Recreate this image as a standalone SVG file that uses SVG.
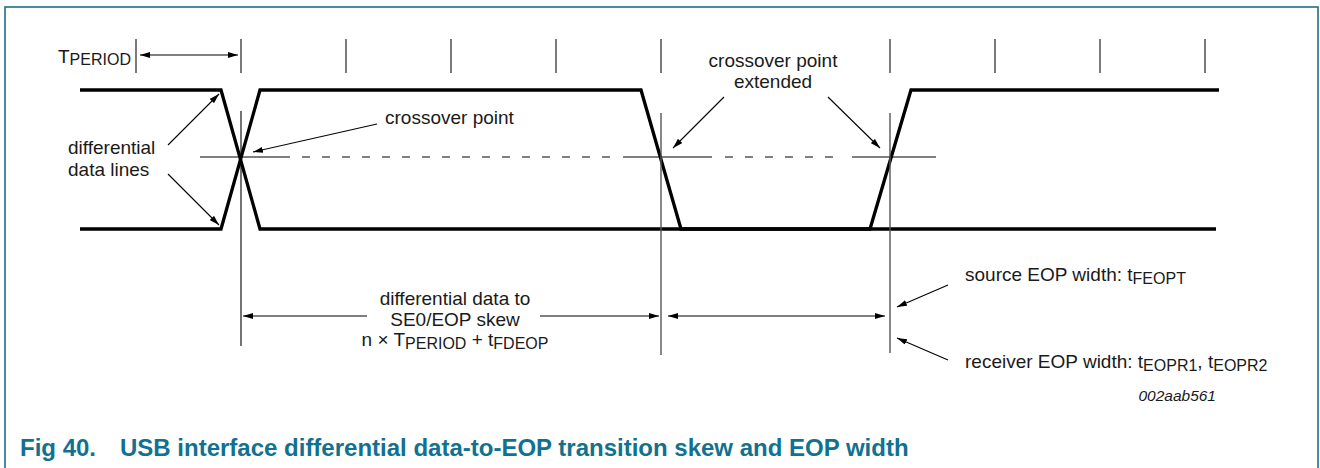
<svg xmlns="http://www.w3.org/2000/svg" width="1320" height="468" viewBox="0 0 1320 468">
<defs>
<marker id="ah" viewBox="0 0 10 6" refX="10" refY="3" markerWidth="10" markerHeight="6" markerUnits="userSpaceOnUse" orient="auto-start-reverse"><path d="M0,0 L10,3 L0,6 z" fill="#000"/></marker>
</defs>
<style>
.t{font-family:"Liberation Sans",Arial,Helvetica,sans-serif;font-size:19px;fill:#1a1a1a}
.sub{font-size:16px}
.sig{fill:none;stroke:#000;stroke-width:3.3;stroke-linejoin:miter}
.tick{stroke:#333;stroke-width:1.3}
.ref{stroke:#555;stroke-width:1.4}
.hl{stroke:#000;stroke-width:1.1}
.dash{stroke:#000;stroke-width:1.1;stroke-dasharray:8 12}
.arr{stroke:#000;stroke-width:1.1;fill:none;marker-end:url(#ah)}
.darr{stroke:#000;stroke-width:1.1;fill:none;marker-start:url(#ah);marker-end:url(#ah)}
.cap{font-family:"Liberation Sans",Arial,Helvetica,sans-serif;font-weight:bold;font-size:24px;fill:#117190}
</style>
<rect x="0" y="0" width="1320" height="468" fill="#fff"/>
<rect id="frame" x="5" y="7" width="1313" height="480" fill="none" stroke="#1f6f87" stroke-width="1.6"/>

<g id="ticks">
<line class="tick" x1="136" y1="39" x2="136" y2="73"/>
<line class="tick" x1="241" y1="39" x2="241" y2="73"/>
<line class="tick" x1="346" y1="39" x2="346" y2="73"/>
<line class="tick" x1="451" y1="39" x2="451" y2="73"/>
<line class="tick" x1="556" y1="39" x2="556" y2="73"/>
<line class="tick" x1="661" y1="39" x2="661" y2="73"/>
<line class="tick" x1="890" y1="39" x2="890" y2="73"/>
<line class="tick" x1="995" y1="39" x2="995" y2="73"/>
<line class="tick" x1="1100" y1="39" x2="1100" y2="73"/>
<line class="tick" x1="1205" y1="39" x2="1205" y2="73"/>
</g>

<g id="signals">
<polyline id="signal-a" class="sig" points="80,90 221,90 260,229 870,229 911,90 1219,90"/>
<polyline id="signal-b" class="sig" points="80,229 221,229 260,90 641,90 681,229 1216,229"/>
</g>

<g id="crossover-level">
<line class="hl" x1="200" y1="157" x2="290" y2="157"/>
<line class="dash" x1="302" y1="157" x2="620" y2="157"/>
<line class="hl" x1="623" y1="157" x2="712" y2="157"/>
<line class="dash" x1="725" y1="157" x2="845" y2="157"/>
<line class="hl" x1="852" y1="157" x2="936" y2="157"/>
</g>

<g id="reference-lines">
<line class="hl" x1="241" y1="111" x2="241" y2="346"/>
<line class="ref" x1="661" y1="113" x2="661" y2="355"/>
<line class="ref" x1="890" y1="113" x2="890" y2="353"/>
</g>

<g id="connectors">
<line class="darr" x1="140" y1="55" x2="238" y2="55"/>
<line class="arr" x1="168" y1="145" x2="219" y2="94"/>
<line class="arr" x1="168" y1="174" x2="219" y2="225"/>
<line class="arr" x1="377" y1="124" x2="253" y2="152"/>
<line class="arr" x1="724" y1="97" x2="673" y2="148"/>
<line class="arr" x1="828" y1="97" x2="880" y2="148"/>
<line class="arr" x1="367" y1="316" x2="243" y2="316"/>
<line class="arr" x1="540" y1="316" x2="659" y2="316"/>
<line class="darr" x1="668" y1="316" x2="885" y2="316"/>
<line class="arr" x1="948" y1="285" x2="897" y2="307"/>
<line class="arr" x1="948" y1="360" x2="897" y2="338"/>
</g>

<g id="label-tperiod"><text class="t" x="58" y="63">T<tspan class="sub" dy="1.5">PERIOD</tspan></text></g>
<g id="label-diff-lines">
<text class="t" x="68" y="154">differential</text>
<text class="t" x="68" y="176">data lines</text>
</g>
<g id="label-crossover"><text class="t" x="385" y="124">crossover point</text></g>
<g id="label-crossover-ext">
<text class="t" x="773" y="67" text-anchor="middle">crossover point</text>
<text class="t" x="773" y="88" text-anchor="middle">extended</text>
</g>
<g id="label-skew">
<text class="t" x="455" y="305" text-anchor="middle">differential data to</text>
<text class="t" x="455" y="326" text-anchor="middle">SE0/EOP skew</text>
<text class="t" x="455" y="346" text-anchor="middle">n × T<tspan class="sub" dy="3">PERIOD</tspan><tspan dy="-3"> + t</tspan><tspan class="sub" dy="3">FDEOP</tspan></text>
</g>
<g id="label-source"><text class="t" x="965" y="281">source EOP width: t<tspan class="sub" dy="3">FEOPT</tspan></text></g>
<g id="label-receiver"><text class="t" x="965" y="368">receiver EOP width: t<tspan class="sub" dy="3">EOPR1</tspan><tspan dy="-3">, t</tspan><tspan class="sub" dy="3">EOPR2</tspan></text></g>
<g id="label-code"><text class="t" x="1216" y="401" text-anchor="end" style="font-style:italic;font-size:15.5px">002aab561</text></g>
<g id="caption"><text class="cap" y="456"><tspan x="20">Fig 40.</tspan><tspan x="120">USB interface differential data-to-EOP transition skew and EOP width</tspan></text></g>
</svg>
